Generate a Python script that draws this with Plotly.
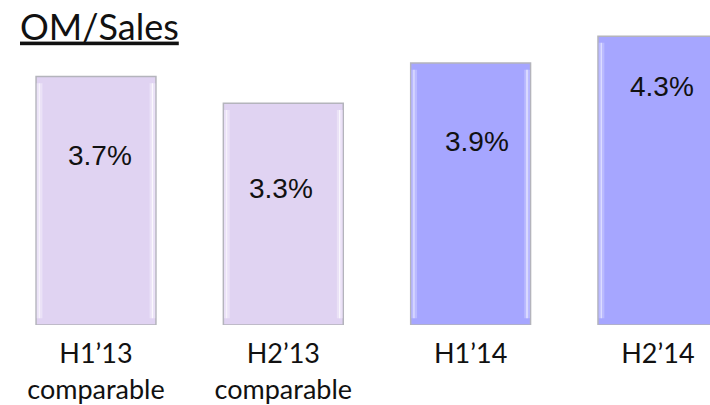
import plotly.graph_objects as go

# OM/Sales by half-year
categories = ["H1’13<br>comparable", "H2’13<br>comparable", "H1’14", "H2’14"]
om_sales = [3.7, 3.3, 3.9, 4.3]
value_labels = ["3.7%", "3.3%", "3.9%", "4.3%"]

# styling
fill_colors = ["#E0D3F2", "#E0D3F2", "#A6A6FF", "#A6A6FF"]
bevel_colors = ["#EBE2F7", "#EBE2F7", "#BBBBFF", "#BBBBFF"]
label_shift_x = [4, -2, 6, 4]
label_shift_y = [-79, -85, -78, -50]

BAR_W = 0.64
STRIP_W = 0.03
BEVEL_H = 0.1

x_idx = list(range(len(categories)))

fig = go.Figure()

# main bars
fig.add_trace(go.Bar(
    x=x_idx, y=om_sales, width=BAR_W,
    marker=dict(color=fill_colors, line=dict(color="#B4B4BC", width=1.5)),
    hoverinfo="skip", showlegend=False,
))

# bevel highlights along the inner left and right edges
strip_len = [v - 2 * BEVEL_H for v in om_sales]
fig.add_trace(go.Bar(
    x=x_idx, y=strip_len, base=BEVEL_H,
    width=STRIP_W, offset=-BAR_W / 2 + 0.004,
    marker=dict(color=bevel_colors, line=dict(width=0)),
    hoverinfo="skip", showlegend=False,
))
fig.add_trace(go.Bar(
    x=x_idx, y=strip_len, base=BEVEL_H,
    width=STRIP_W, offset=BAR_W / 2 - 0.004 - STRIP_W,
    marker=dict(color=bevel_colors, line=dict(width=0)),
    hoverinfo="skip", showlegend=False,
))
fig.add_trace(go.Bar(
    x=x_idx, y=strip_len, base=BEVEL_H,
    width=0.006, offset=BAR_W / 2 - 0.004 - STRIP_W * 0.6,
    marker=dict(color="rgba(255,255,255,0.8)", line=dict(width=0)),
    hoverinfo="skip", showlegend=False,
))
fig.add_trace(go.Bar(
    x=x_idx, y=strip_len, base=BEVEL_H,
    width=0.006, offset=-BAR_W / 2 + 0.004 + STRIP_W * 0.35,
    marker=dict(color="rgba(255,255,255,0.6)", line=dict(width=0)),
    hoverinfo="skip", showlegend=False,
))

# value labels inside the bars
for i, (v, txt) in enumerate(zip(om_sales, value_labels)):
    fig.add_annotation(
        x=i, y=v, text=txt, showarrow=False,
        xshift=label_shift_x[i], yshift=label_shift_y[i],
        font=dict(family="Liberation Sans, Arial, sans-serif", size=28, color="#111111"),
    )

fig.update_layout(
    width=710, height=405,
    margin=dict(l=0, r=0, t=0, b=76),
    paper_bgcolor="white", plot_bgcolor="white",
    barmode="overlay",
    title=dict(
        text="<u>OM/Sales</u>",
        x=20 / 710, xanchor="left", xref="paper",
        y=1 - 27 / 405, yanchor="middle", yref="container",
        font=dict(family="Lato, sans-serif", size=36, color="#111111"),
    ),
    xaxis=dict(
        tickmode="array", tickvals=x_idx, ticktext=categories,
        range=[-0.5125, 3.278],
        showgrid=False, zeroline=False, showline=False,
        ticks="outside", ticklen=5, tickcolor="rgba(0,0,0,0)",
        tickfont=dict(family="Lato, sans-serif", size=27, color="#111111"),
    ),
    yaxis=dict(
        range=[0, 329 / 68], visible=False, showgrid=False, zeroline=False,
    ),
)

fig.write_html("out.html")
